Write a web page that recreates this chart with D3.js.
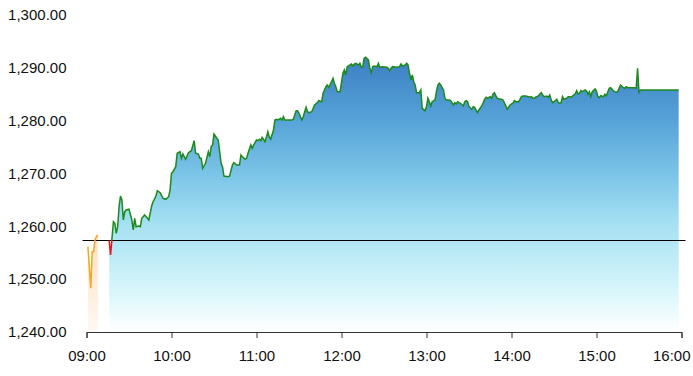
<!DOCTYPE html>
<html>
<head>
<meta charset="utf-8">
<script src="https://cdn.jsdelivr.net/npm/d3@7"></script>
<style>
  body { margin: 0; background: #fff; }
  svg { display: block; font-family: "Liberation Sans", Arial, sans-serif; }
</style>
</head>
<body>
<div id="chart"></div>
<script>
// Podatki: predtrgovanje, glavna seja, prejsnje zaprtje
const prevClose = 1257.4;

const preTimes  = ["09:01", "09:03", "09:04", "09:05", "09:06", "09:07", "09:08"];
const prePrices = [1256.15, 1248.27, 1255.20, 1255.20, 1257.41, 1258.04, 1258.36];

const sessionTimes = [
  "09:16","09:17","09:18","09:19","09:20","09:21","09:22","09:23","09:24","09:25",
  "09:26","09:27","09:28","09:30","09:32","09:33","09:34","09:35","09:37","09:38",
  "09:39","09:40","09:41","09:43","09:44","09:46","09:47","09:49","09:50","09:52",
  "09:54","09:56","09:58","09:59","10:00","10:01","10:03","10:04","10:06","10:07",
  "10:08","10:10","10:12","10:14","10:16","10:17","10:19","10:20","10:21","10:22",
  "10:24","10:26","10:27","10:28","10:29","10:30","10:32","10:33","10:34","10:35",
  "10:36","10:37","10:40","10:41","10:43","10:44","10:46","10:48","10:49","10:50",
  "10:52","10:53","10:54","10:56","10:57","10:58","11:00","11:01","11:02","11:03",
  "11:04","11:06","11:07","11:08","11:09","11:10","11:12","11:13","11:14","11:15",
  "11:16","11:17","11:18","11:19","11:20","11:22","11:25","11:26","11:28","11:29",
  "11:30","11:32","11:33","11:34","11:35","11:36","11:37","11:39","11:41","11:43",
  "11:44","11:46","11:47","11:49","11:50","11:51","11:53","11:54","11:55","11:56",
  "11:57","11:59","12:01","12:02","12:03","12:04","12:06","12:07","12:08","12:09",
  "12:10","12:12","12:13","12:14","12:15","12:16","12:17","12:19","12:20","12:21",
  "12:22","12:23","12:25","12:26","12:27","12:29","12:32","12:33","12:34","12:35",
  "12:36","12:39","12:41","12:42","12:43","12:45","12:46","12:47","12:48","12:49",
  "12:50","12:51","12:52","12:53","12:55","12:56","12:57","12:59","13:00","13:01",
  "13:02","13:03","13:04","13:06","13:07","13:08","13:09","13:10","13:12","13:13",
  "13:14","13:16","13:17","13:19","13:20","13:21","13:22","13:23","13:24","13:26",
  "13:27","13:28","13:29","13:30","13:32","13:33","13:34","13:35","13:36","13:37",
  "13:39","13:40","13:41","13:42","13:43","13:45","13:46","13:47","13:48","13:49",
  "13:50","13:52","13:53","13:54","13:55","13:56","13:57","13:59","14:00","14:01",
  "14:02","14:03","14:05","14:06","14:07","14:08","14:10","14:12","14:13","14:14",
  "14:15","14:16","14:17","14:19","14:20","14:21","14:22","14:23","14:25","14:26",
  "14:27","14:28","14:29","14:30","14:32","14:33","14:34","14:35","14:36","14:37",
  "14:39","14:40","14:41","14:42","14:43","14:45","14:46","14:47","14:48","14:49",
  "14:50","14:52","14:53","14:54","14:55","14:56","14:57","14:59","15:00","15:01",
  "15:02","15:03","15:05","15:06","15:07","15:08","15:09","15:10","15:12","15:13",
  "15:14","15:15","15:16","15:17","15:19","15:20","15:21","15:22","15:25","15:27",
  "15:28","15:29","15:30","15:31","15:58"
];

const sessionPrices = [
  1257.30,1254.60,1257.74,1260.88,1260.58,1258.68,1259.93,1263.72,1265.74,1264.99,
  1261.20,1262.77,1263.09,1263.23,1261.20,1259.31,1261.52,1259.93,1260.07,1259.93,
  1261.52,1261.83,1262.15,1261.52,1261.20,1263.85,1264.66,1265.74,1266.75,1266.37,
  1265.31,1265.12,1265.61,1266.88,1270.04,1270.34,1271.29,1273.83,1274.13,1272.88,
  1273.69,1272.69,1273.94,1274.32,1276.21,1273.83,1273.69,1272.88,1272.88,1270.99,
  1271.93,1274.13,1273.18,1275.08,1275.40,1277.48,1276.67,1276.34,1274.13,1271.93,
  1271.29,1269.53,1269.40,1269.53,1271.61,1272.05,1271.61,1271.61,1273.50,1273.18,
  1272.69,1272.88,1273.83,1275.40,1274.77,1275.40,1276.34,1276.21,1276.48,1276.21,
  1276.85,1276.02,1276.85,1277.91,1276.97,1276.48,1278.24,1280.13,1280.26,1280.13,
  1280.26,1280.45,1280.13,1280.75,1280.13,1280.13,1280.13,1280.26,1281.89,1281.89,
  1281.40,1280.13,1280.75,1281.70,1282.53,1281.70,1281.51,1281.70,1282.97,1283.40,
  1283.78,1283.59,1285.18,1286.43,1286.75,1286.32,1287.38,1288.02,1287.08,1286.43,
  1285.49,1285.49,1288.97,1289.59,1288.65,1290.22,1290.54,1290.73,1290.35,1290.73,
  1290.86,1290.54,1290.86,1290.10,1290.22,1291.81,1292.00,1291.49,1289.92,1289.08,
  1290.22,1290.35,1290.22,1290.86,1290.10,1290.22,1290.10,1289.92,1289.46,1289.92,
  1290.22,1290.10,1290.22,1290.73,1290.35,1290.54,1290.86,1290.54,1288.97,1287.70,
  1288.65,1287.38,1286.75,1285.30,1285.30,1285.81,1282.34,1281.89,1282.65,1284.24,
  1283.59,1282.78,1283.59,1283.92,1285.49,1286.75,1287.08,1286.75,1285.81,1284.24,
  1283.92,1283.92,1283.78,1282.97,1283.40,1283.16,1283.59,1283.40,1283.29,1282.78,
  1283.59,1283.78,1283.59,1282.65,1282.16,1282.65,1282.53,1282.02,1281.51,1282.02,
  1282.78,1283.40,1284.05,1284.43,1284.24,1284.54,1284.24,1285.05,1285.30,1284.67,
  1284.24,1284.05,1284.05,1283.92,1283.40,1282.78,1282.16,1282.97,1283.16,1283.29,
  1283.78,1283.59,1283.59,1284.05,1284.54,1284.67,1284.67,1284.54,1284.43,1284.54,
  1284.24,1284.24,1284.43,1284.67,1285.05,1285.30,1284.86,1284.54,1284.67,1284.43,
  1284.86,1283.92,1283.40,1283.59,1284.05,1283.40,1283.29,1283.40,1284.54,1284.05,
  1284.24,1284.54,1284.54,1284.43,1284.67,1285.05,1285.68,1285.05,1285.18,1285.68,
  1285.49,1285.81,1285.62,1284.99,1285.49,1284.54,1285.49,1286.00,1285.62,1284.54,
  1284.35,1284.73,1284.54,1284.99,1284.73,1285.49,1286.13,1286.24,1285.62,1285.49,
  1285.37,1285.49,1286.13,1286.75,1286.24,1286.13,1286.43,1286.24,1286.24,1286.24,
  1286.13,1289.92,1285.37,1285.81,1285.81
];

const yTicks = [1240, 1250, 1260, 1270, 1280, 1290, 1300];
const xTickLabels = ["09:00", "10:00", "11:00", "12:00", "13:00", "14:00", "15:00", "16:00"];

// Risanje grafa
function createChart() {
    const width = 693;
    const height = 376;
    const margin = { top: 15, right: 11.5, bottom: 44, left: 86.5 };

    const parseTime = d3.timeParse("%H:%M");
    const pre = preTimes.map((t, i) => ({ t: parseTime(t), v: prePrices[i] }));
    const session = sessionTimes.map((t, i) => ({ t: parseTime(t), v: sessionPrices[i] }));

    const svg = d3.select("#chart")
        .append("svg")
        .attr("width", width)
        .attr("height", height);

    const xScale = d3.scaleTime()
        .domain([parseTime(xTickLabels[0]), parseTime(xTickLabels[xTickLabels.length - 1])])
        .range([margin.left, width - margin.right]);

    const yScale = d3.scaleLinear()
        .domain([yTicks[0], yTicks[yTicks.length - 1]])
        .range([height - margin.bottom, margin.top]);

    const yBase = yScale(yTicks[0]);
    const yClose = yScale(prevClose);

    // Gradienti
    const defs = svg.append("defs");

    const blue = defs.append("linearGradient")
        .attr("id", "blueFill")
        .attr("gradientUnits", "userSpaceOnUse")
        .attr("x1", 0).attr("x2", 0)
        .attr("y1", yScale(d3.max(sessionPrices)))
        .attr("y2", yBase);
    [[0, "#3c7fc3"], [0.23, "#56a3d8"], [0.43, "#7cc5e8"], [0.61, "#a6e1f3"], [0.85, "#d8f6fb"], [1, "#ffffff"]]
        .forEach(s => blue.append("stop").attr("offset", s[0]).attr("stop-color", s[1]));

    const orange = defs.append("linearGradient")
        .attr("id", "orangeFill")
        .attr("gradientUnits", "userSpaceOnUse")
        .attr("x1", 0).attr("x2", 0)
        .attr("y1", yScale(d3.max(prePrices)))
        .attr("y2", yBase);
    orange.append("stop").attr("offset", 0).attr("stop-color", "#fde0c2");
    orange.append("stop").attr("offset", 1).attr("stop-color", "#fff9f2");

    defs.append("clipPath").attr("id", "clipUp")
        .append("rect").attr("x", 0).attr("y", 0).attr("width", width).attr("height", yClose);
    defs.append("clipPath").attr("id", "clipDown")
        .append("rect").attr("x", 0).attr("y", yClose).attr("width", width).attr("height", height - yClose);

    const area = d3.area()
        .x(d => xScale(d.t))
        .y0(yBase)
        .y1(d => yScale(d.v));

    const line = d3.line()
        .x(d => xScale(d.t))
        .y(d => yScale(d.v));

    // Ploskve
    svg.append("path").datum(pre).attr("d", area).attr("fill", "url(#orangeFill)");
    svg.append("path").datum(session).attr("d", area).attr("fill", "url(#blueFill)");

    // x os
    svg.append("g")
        .attr("transform", `translate(0,${yBase})`)
        .call(d3.axisBottom(xScale)
            .tickValues(xTickLabels.map(parseTime))
            .tickFormat(d3.timeFormat("%H:%M"))
            .tickPadding(12))
        .call(g => g.selectAll("path, line").attr("stroke", "#333"))
        .call(g => g.selectAll("text").attr("fill", "#111").style("font-size", "15px"));

    // zadnja oznaka naj ostane znotraj platna
    svg.selectAll(".tick").filter((d, i, n) => i === n.length - 1 && +d === +xScale.domain()[1])
        .select("text")
        .attr("text-anchor", "end")
        .attr("x", width - 3 - xScale.range()[1]);

    // y os (samo oznake)
    svg.append("g")
        .attr("transform", `translate(${margin.left},0)`)
        .call(d3.axisLeft(yScale)
            .tickValues(yTicks)
            .tickFormat(d3.format(",.2f"))
            .tickSize(0)
            .tickPadding(20))
        .call(g => g.select(".domain").remove())
        .call(g => g.selectAll("text").attr("fill", "#111").style("font-size", "15px"));

    // Prejsnje zaprtje
    const yLine = Math.round(yClose) + 0.5;
    svg.append("line")
        .attr("x1", margin.left - 4)
        .attr("x2", width - margin.right + 4)
        .attr("y1", yLine)
        .attr("y2", yLine)
        .attr("stroke", "#000")
        .attr("stroke-width", 1);

    // Crte
    svg.append("path").datum(pre).attr("d", line)
        .attr("fill", "none").attr("stroke", "#f5a623").attr("stroke-width", 1.5);
    svg.append("path").datum(session).attr("d", line)
        .attr("clip-path", "url(#clipUp)")
        .attr("fill", "none").attr("stroke", "#1b8a1b").attr("stroke-width", 1.5);
    svg.append("path").datum(session).attr("d", line)
        .attr("clip-path", "url(#clipDown)")
        .attr("fill", "none").attr("stroke", "#e8141c").attr("stroke-width", 1.5);
}

createChart();
</script>
</body>
</html>
